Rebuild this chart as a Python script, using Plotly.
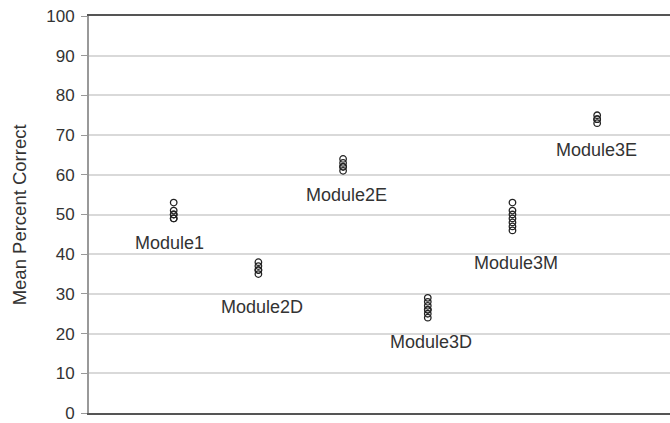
import plotly.graph_objects as go

modules = ["Module1", "Module2D", "Module2E", "Module3D", "Module3M", "Module3E"]
scores = [
    [53, 51, 50, 50, 49, 49],
    [38, 37, 36, 36, 35],
    [64, 63, 62, 62, 61],
    [29, 28, 27, 26, 26, 25, 24],
    [53, 51, 50, 49, 48, 47, 46],
    [75, 74, 74, 73],
]
y_ticks = list(range(0, 101, 10))

# label placement (offsets relative to the category position, and y)
label_dx = [-0.044, 0.048, 0.043, 0.038, 0.041, -0.006]
label_y = [42.9, 26.8, 55.0, 18.0, 37.7, 66.2]

font = "Liberation Sans, Arial, Helvetica, sans-serif"

fig = go.Figure()
for i, (name, vals) in enumerate(zip(modules, scores)):
    fig.add_trace(go.Scatter(
        x=[i + 1] * len(vals), y=vals, mode="markers", name=name,
        marker=dict(symbol="circle-open", size=6.5, color="#222222",
                    line=dict(width=1.3, color="#222222")),
        showlegend=False, hoverinfo="y",
    ))
    fig.add_annotation(x=i + 1 + label_dx[i], y=label_y[i], text=name,
                       showarrow=False, xanchor="center", yanchor="middle",
                       font=dict(family=font, size=18, color="#333333"))

fig.add_annotation(xref="paper", yref="paper", x=-0.119, y=0.5,
                   text="Mean Percent Correct", textangle=-90, showarrow=False,
                   xanchor="center", yanchor="middle",
                   font=dict(family=font, size=18.5, color="#333333"))

fig.update_layout(
    width=670, height=423,
    margin=dict(l=89, r=0, t=16, b=8),
    plot_bgcolor="white", paper_bgcolor="white",
    xaxis=dict(range=[0, 6.86], showticklabels=False, ticks="",
               showgrid=False, zeroline=False, showline=True,
               linecolor="#555555", linewidth=2, mirror=True),
    yaxis=dict(range=[0, 100], tickvals=y_ticks, showgrid=True,
               gridcolor="#d9d9d9", gridwidth=1.5, zeroline=False,
               showline=True, linecolor="#999999", linewidth=2,
               ticks="outside", ticklen=6, tickcolor="#999999", tickwidth=1,
               ticklabelstandoff=3, ticklabeloverflow="allow",
               tickfont=dict(family=font, size=17, color="#333333")),
)

fig.write_html("out.html")
